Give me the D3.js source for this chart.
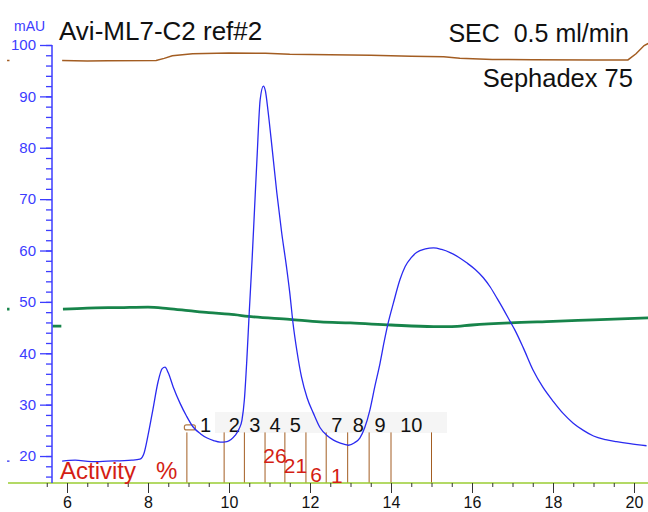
<!DOCTYPE html>
<html>
<head>
<meta charset="utf-8">
<script src="https://cdn.jsdelivr.net/npm/d3@7"></script>
<style>
  body { margin: 0; background: #fff; }
  svg { display: block; font-family: "Liberation Sans", Arial, sans-serif; }
</style>
</head>
<body>
<svg id="chart" width="648" height="512"></svg>
<script>
'use strict';

// UV absorbance (mAU) vs elution volume (ml); null marks a gap in the trace
var uvTrace = [
    [4.52, 19.0], [4.58, 19.0], null,
    [5.88, 19.0], [6.2, 19.2], [6.6, 18.9], [7.0, 19.0], [7.6, 19.2], [7.8, 19.4],
    [7.9, 20.5], [8.0, 24], [8.12, 29], [8.25, 34.5], [8.35, 37], [8.42, 37.3],
    [8.5, 36.2], [8.62, 33.5], [8.79, 30.3], [8.95, 27.8], [9.11, 25.7], [9.3, 24.3],
    [9.46, 23.5], [9.62, 23.0], [9.78, 22.7], [9.95, 22.8], [10.05, 23.2], [10.15, 24.0],
    [10.25, 25.3], [10.32, 27], [10.38, 31], [10.44, 38.7], [10.5, 48], [10.57, 58.2],
    [10.63, 68], [10.69, 77.7], [10.77, 89.4], [10.85, 92.0], [10.9, 91.0], [10.96, 87.4],
    [11.07, 79.5], [11.18, 71.3], [11.3, 63.5], [11.42, 56.8], [11.5, 51.8], [11.58, 45.9],
    [11.68, 40.3], [11.79, 35.4], [11.93, 31.3], [12.08, 28.4], [12.25, 25.5], [12.42, 24.0],
    [12.58, 23.1], [12.75, 22.5], [12.95, 22.1], [13.1, 22.6], [13.23, 23.5], [13.35, 25.5],
    [13.48, 29], [13.6, 33.5], [13.73, 38.1], [13.83, 42.2], [13.93, 45.9], [14.06, 49.8],
    [14.22, 54.3], [14.35, 56.9], [14.5, 58.6], [14.63, 59.6], [14.85, 60.3], [15.05, 60.5],
    [15.25, 60.2], [15.46, 59.6], [15.67, 58.7], [15.87, 57.6], [16.08, 56.3], [16.28, 54.7],
    [16.45, 52.9], [16.61, 50.8], [16.78, 48.5], [16.94, 46.2], [17.06, 44.5], [17.27, 41.0],
    [17.51, 36.7], [17.75, 33.4], [18.01, 30.6], [18.25, 28.3], [18.5, 26.4], [18.75, 25.0],
    [19.0, 23.9], [19.3, 23.2], [19.57, 22.8], [19.9, 22.4], [20.31, 22.0]
];

// conductivity trace (brown), same y scale
var condTrace = [
    [4.52, 97.0], [4.58, 97.0], null,
    [5.88, 97.0], [6.5, 96.9], [7.0, 96.95], [8.2, 97.0], [8.4, 97.4], [8.6, 97.9],
    [9.1, 98.3], [10.0, 98.45], [10.9, 98.4], [11.5, 98.2], [12.5, 98.1], [13.5, 98.0],
    [14.5, 97.8], [15.3, 97.7], [15.7, 97.4], [16.5, 97.2], [17.5, 97.15], [19.0, 97.1],
    [19.85, 97.1], [20.05, 98.3], [20.25, 99.9], [20.35, 100.3]
];

// concentration trace (green)
var concTrace = [
    [4.52, 48.6], [4.58, 48.6], null,
    [5.64, 45.3], [5.86, 45.3], null,
    [5.9, 48.6], [6.5, 48.8], [7.3, 48.9], [8.0, 49.0], [8.5, 48.7], [9.0, 48.3],
    [9.5, 47.9], [10.0, 47.6], [10.6, 47.1], [11.5, 46.6], [12.25, 46.1], [13.0, 45.9],
    [14.0, 45.5], [15.05, 45.2], [15.5, 45.2], [16.0, 45.5], [16.94, 45.9], [18.0, 46.2],
    [19.0, 46.5], [20.35, 46.9]
];

// fraction boundaries (ml) and labels
var fractionMarks = [8.96, 9.88, 10.38, 10.89, 11.38, 11.9, 12.4, 12.93, 13.46, 14.0, 15.0];
var fractionLabels = ["1", "2", "3", "4", "5", "", "7", "8", "9", "10"];

// activity % for fractions 4..7
var activityFractions = [4, 5, 6, 7];
var activityValues = [26, 21, 6, 1];

var xTicks = [6, 8, 10, 12, 14, 16, 18, 20];
var yTicks = [20, 30, 40, 50, 60, 70, 80, 90, 100];

// layout
var AXIS_Y = 483;
var AXIS_X = 52;
var BLUE = "#2a2af0";
var AXIS_BLUE = "#3c3cff";
var BROWN = "#a35d22";
var GREEN = "#17844a";
var RED = "#d41e14";
var activityBaseline = [463, 473, 482, 483];

var svg = d3.select("#chart");

var x = d3.scaleLinear().domain([6, 20]).range([67, 634]);
var y = d3.scaleLinear().domain([14.75, 100]).range([AXIS_Y, 45]);

// faint box behind the fraction labels
svg.append("rect")
    .attr("x", 215).attr("y", 412)
    .attr("width", 232).attr("height", 21)
    .attr("fill", "#f5f5f5");

// fraction marker lines
var fracTop = y(24.6);
svg.append("g").selectAll("line")
    .data(fractionMarks)
    .enter().append("line")
    .attr("x1", function (d) { return x(d); })
    .attr("x2", function (d) { return x(d); })
    .attr("y1", fracTop)
    .attr("y2", AXIS_Y)
    .attr("stroke", BROWN)
    .attr("stroke-width", 1);

// start marker on first fraction
svg.append("rect")
    .attr("x", x(fractionMarks[0]) - 2.5).attr("y", fracTop - 7.5)
    .attr("width", 11).attr("height", 5)
    .attr("rx", 2)
    .attr("fill", "none")
    .attr("stroke", "#b07a45")
    .attr("stroke-width", 1.2);

// fraction labels centred between marks
svg.append("g").selectAll("text")
    .data(fractionLabels)
    .enter().append("text")
    .attr("x", function (d, i) { return (x(fractionMarks[i]) + x(fractionMarks[i + 1])) / 2; })
    .attr("y", 432)
    .attr("text-anchor", "middle")
    .attr("font-size", 20)
    .attr("fill", "#111")
    .text(function (d) { return d; });

var line = d3.line()
    .defined(function (d) { return d !== null; })
    .x(function (d) { return x(d[0]); })
    .y(function (d) { return y(d[1]); });

var smoothLine = d3.line()
    .defined(function (d) { return d !== null; })
    .curve(d3.curveMonotoneX)
    .x(function (d) { return x(d[0]); })
    .y(function (d) { return y(d[1]); });

svg.append("path").datum(concTrace)
    .attr("d", smoothLine)
    .attr("fill", "none")
    .attr("stroke", GREEN)
    .attr("stroke-width", 2.8);

svg.append("path").datum(condTrace)
    .attr("d", line)
    .attr("fill", "none")
    .attr("stroke", BROWN)
    .attr("stroke-width", 1.5);

svg.append("path").datum(uvTrace)
    .attr("d", smoothLine)
    .attr("fill", "none")
    .attr("stroke", BLUE)
    .attr("stroke-width", 1.3)
    .attr("stroke-linejoin", "round");

// x axis
svg.append("line")
    .attr("x1", 8).attr("x2", 648)
    .attr("y1", AXIS_Y).attr("y2", AXIS_Y)
    .attr("stroke", "#9acd32")
    .attr("stroke-width", 1.5);

var minorX = d3.range(5.5, 20.51, 0.5).filter(function (v) { return v % 2 !== 0; });
svg.append("g")
    .attr("transform", "translate(0," + AXIS_Y + ")")
    .call(d3.axisBottom(x).tickValues(minorX).tickSize(4).tickFormat(""))
    .call(function (g) { g.select(".domain").remove(); })
    .selectAll("line").attr("stroke", "#333");

var xAxisG = svg.append("g")
    .attr("transform", "translate(0," + AXIS_Y + ")")
    .call(d3.axisBottom(x).tickValues(xTicks).tickSize(10).tickPadding(4).tickFormat(d3.format("d")))
    .call(function (g) { g.select(".domain").remove(); });
xAxisG.selectAll("line").attr("stroke", "#333");
xAxisG.selectAll("text").attr("font-size", 16).attr("fill", "#111")
    .attr("font-family", "Liberation Sans, Arial, sans-serif");

// y axis
svg.append("line")
    .attr("x1", AXIS_X).attr("x2", AXIS_X)
    .attr("y1", y(100)).attr("y2", AXIS_Y)
    .attr("stroke", AXIS_BLUE)
    .attr("stroke-width", 1.5);

svg.append("g")
    .attr("transform", "translate(" + AXIS_X + ",0)")
    .call(d3.axisLeft(y).tickValues(d3.range(16, 100.1, 2)).tickSize(6).tickFormat(""))
    .call(function (g) { g.select(".domain").remove(); })
    .selectAll("line").attr("stroke", AXIS_BLUE).attr("stroke-width", 1.3);

var yAxisG = svg.append("g")
    .attr("transform", "translate(" + AXIS_X + ",0)")
    .call(d3.axisLeft(y).tickValues(yTicks).tickSize(12).tickPadding(4))
    .call(function (g) { g.select(".domain").remove(); });
yAxisG.selectAll("line").attr("stroke", AXIS_BLUE).attr("stroke-width", 1.3);
yAxisG.selectAll("text").attr("font-size", 15).attr("fill", AXIS_BLUE)
    .attr("font-family", "Liberation Sans, Arial, sans-serif");

svg.append("text")
    .attr("x", 14).attr("y", 31)
    .attr("font-size", 14)
    .attr("fill", AXIS_BLUE)
    .text("mAU");

// titles
svg.append("text")
    .attr("x", 59).attr("y", 40)
    .attr("font-size", 26)
    .attr("fill", "#111")
    .text("Avi-ML7-C2 ref#2");

svg.append("text")
    .attr("x", 629).attr("y", 42)
    .attr("text-anchor", "end")
    .attr("font-size", 25)
    .attr("fill", "#111")
    .style("white-space", "pre")
    .text("SEC  0.5 ml/min");

svg.append("text")
    .attr("x", 633).attr("y", 87)
    .attr("text-anchor", "end")
    .attr("font-size", 25.5)
    .attr("fill", "#111")
    .text("Sephadex 75");

// activity annotation
svg.append("text")
    .attr("x", 60).attr("y", 479)
    .attr("font-size", 24)
    .attr("fill", RED)
    .text("Activity");

svg.append("text")
    .attr("x", 156).attr("y", 479)
    .attr("font-size", 24)
    .attr("fill", RED)
    .text("%");

svg.append("g").selectAll("text")
    .data(activityValues)
    .enter().append("text")
    .attr("x", function (d, i) {
        var f = activityFractions[i];
        return (x(fractionMarks[f - 1]) + x(fractionMarks[f])) / 2;
    })
    .attr("y", function (d, i) { return activityBaseline[i]; })
    .attr("text-anchor", "middle")
    .attr("font-size", 21)
    .attr("fill", RED)
    .text(function (d) { return d; });
</script>
</body>
</html>
